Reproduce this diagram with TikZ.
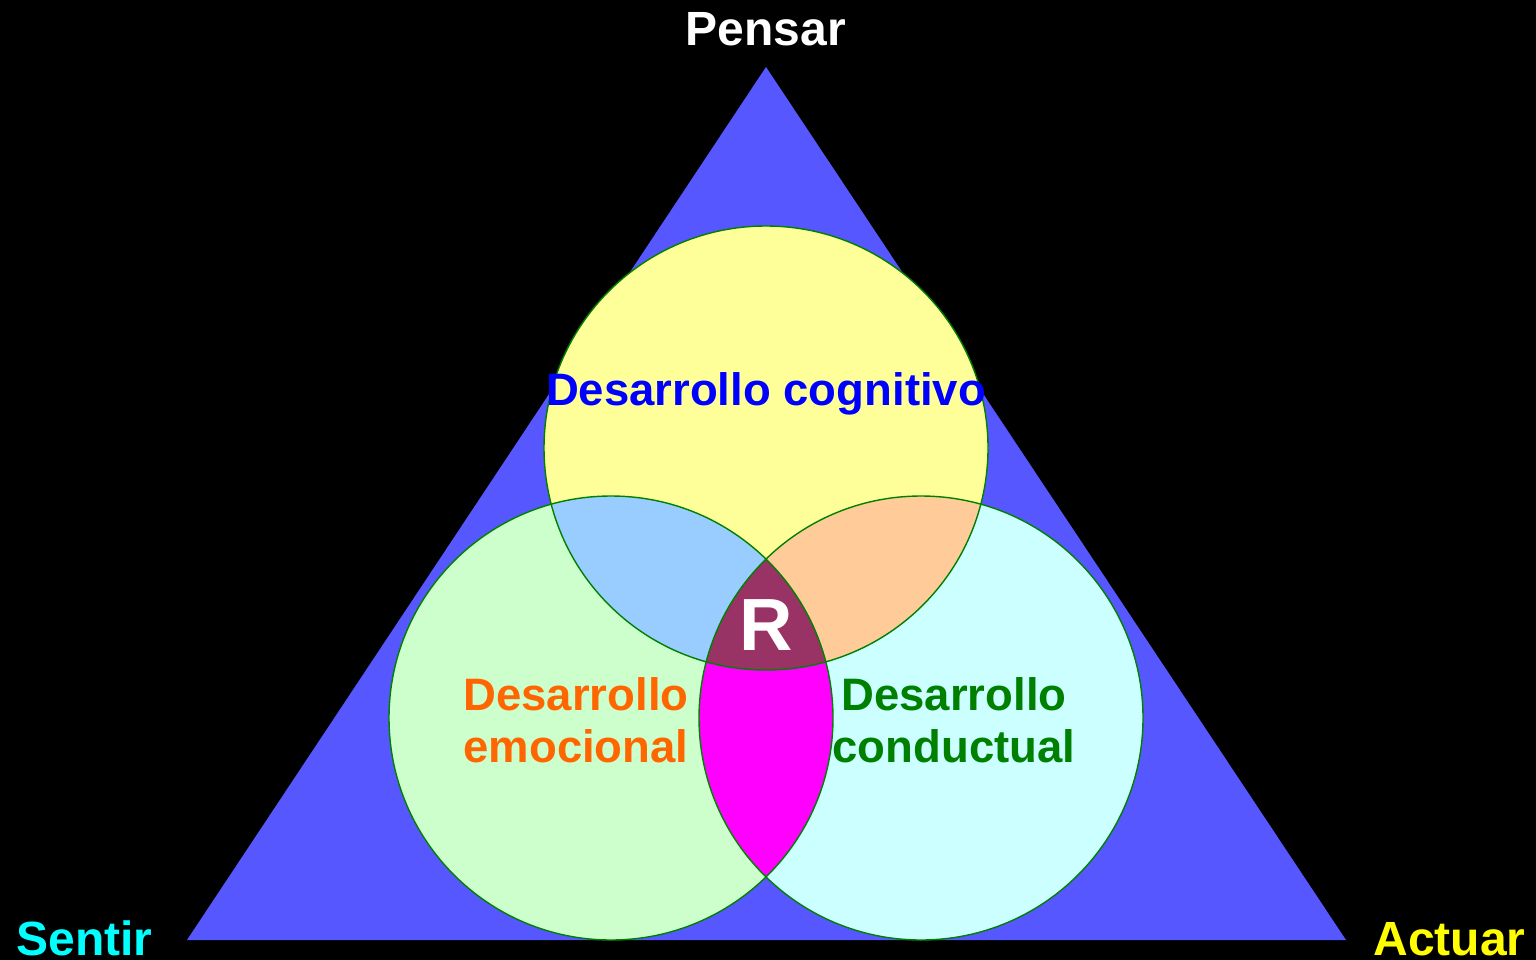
\documentclass[tikz,border=0pt]{standalone}
\usepackage{fontspec}
\setmainfont{Liberation Sans}
\definecolor{tri}{HTML}{5757FF}
\definecolor{cyel}{HTML}{FFFF99}
\definecolor{cgrn}{HTML}{CCFFCC}
\definecolor{ccyn}{HTML}{CCFFFF}
\definecolor{iblu}{HTML}{99CCFF}
\definecolor{iorg}{HTML}{FFCC99}
\definecolor{imag}{HTML}{FF00FF}
\definecolor{icen}{HTML}{993366}
\definecolor{edge}{HTML}{008000}
\definecolor{torg}{HTML}{FF6600}
\definecolor{tcyan}{HTML}{00FFFF}
\definecolor{tyel}{HTML}{FFFF00}
\definecolor{tblue}{HTML}{0000FF}
\begin{document}
\begin{tikzpicture}[x=1pt,y=-1pt,
  lbl/.style={font=\bfseries\fontsize{48}{52}\selectfont, anchor=base},
  dtxt/.style={font=\bfseries\fontsize{45.5}{52}\selectfont, align=center, anchor=base}]
\fill[black] (0,0) rectangle (1536,960);
\useasboundingbox (0,0) rectangle (1536,960);
\fill[tri] (766,67) -- (187,940) -- (1346,940) -- cycle;
\def\ctop{(766,448) circle (222)}
\def\cleft{(611,718) circle (222)}
\def\cright{(921,718) circle (222)}
\fill[cyel] \ctop;
\fill[cgrn] \cleft;
\fill[ccyn] \cright;
\begin{scope}\clip \ctop; \fill[iblu] \cleft; \fill[iorg] \cright; \end{scope}
\begin{scope}\clip \cleft; \fill[imag] \cright; \end{scope}
\begin{scope}\clip \ctop; \clip \cleft; \fill[icen] \cright; \end{scope}
\draw[edge, line width=1.4pt] \ctop;
\draw[edge, line width=1.4pt] \cleft;
\draw[edge, line width=1.4pt] \cright;
\node[lbl, text=white] (pensar) at (766,46) {Pensar};
\node[lbl, text=tcyan, anchor=base west] (sentir) at (13,955) {Sentir};
\node[lbl, text=tyel, anchor=base west] (actuar) at (1370,955) {Actuar};
\node[dtxt, text=tblue] (cog) at (766,405) {Desarrollo cognitivo};
\node[dtxt, text=torg] (emo) at (576,762) {Desarrollo\\emocional};
\node[dtxt, text=edge] (con) at (954,762) {Desarrollo\\conductual};
\node[font=\bfseries\fontsize{74}{80}\selectfont, text=white, anchor=base] (r) at (766,650) {R};
\end{tikzpicture}
\end{document}
